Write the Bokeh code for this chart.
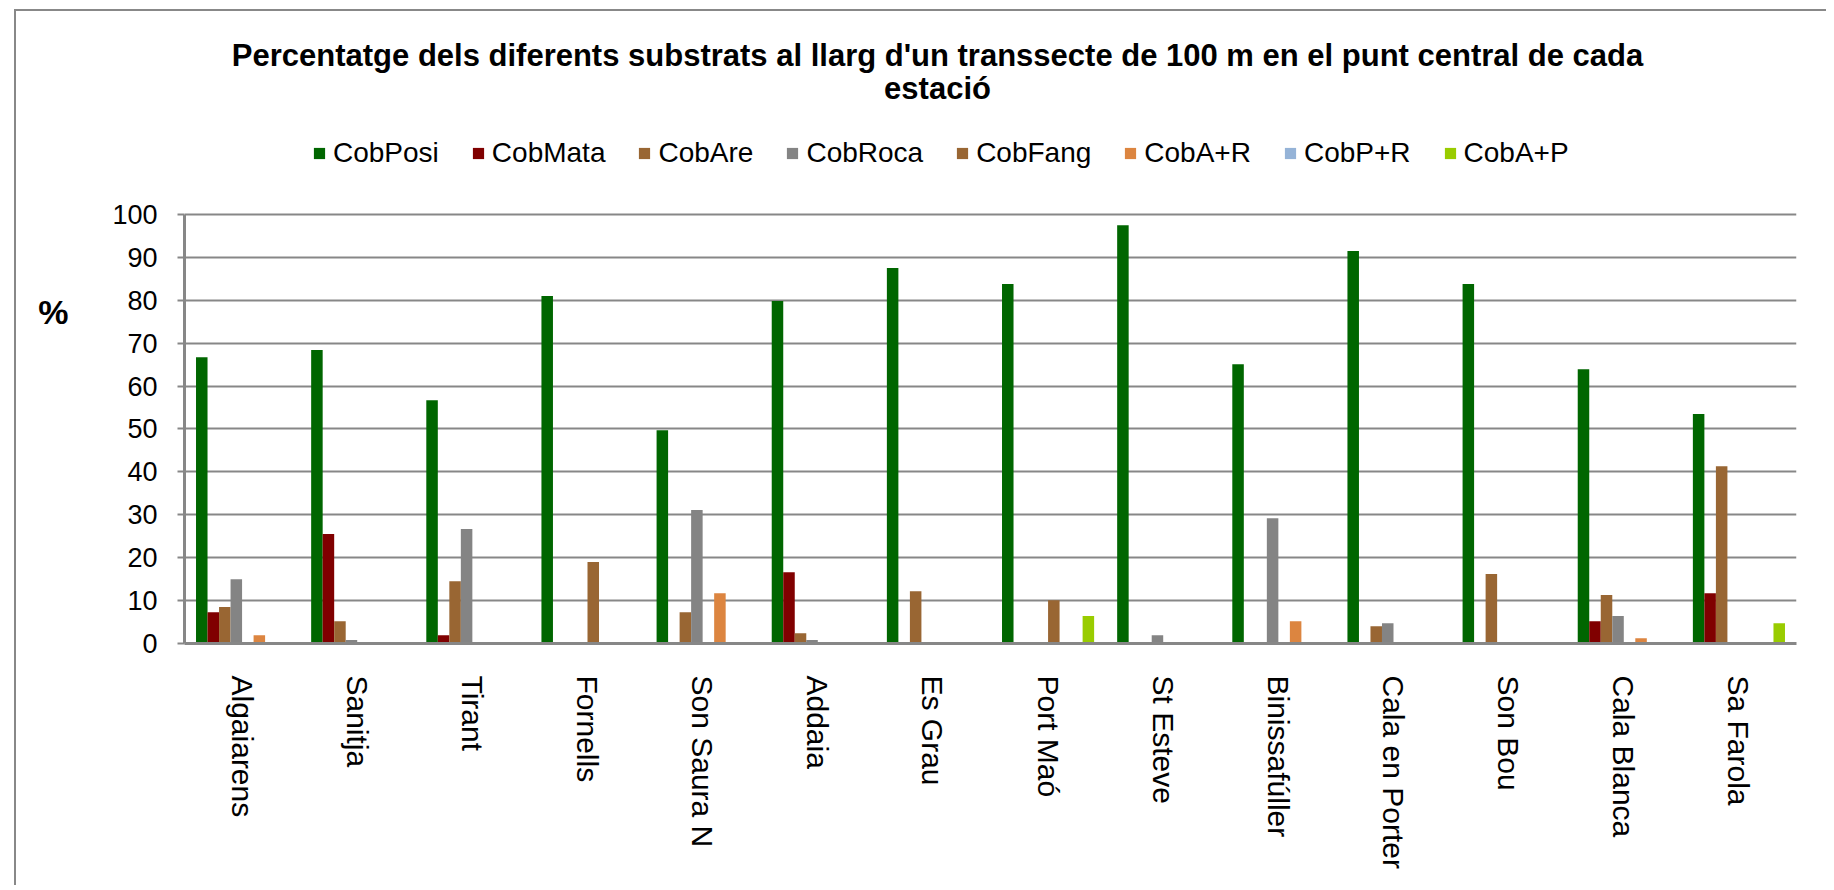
from bokeh.plotting import figure
from bokeh.models import (FactorRange, Range1d, Legend, LegendItem, Label,
                          SingleIntervalTicker, FixedTicker, LinearAxis, ColumnDataSource)
from bokeh.transform import dodge
from bokeh.embed import file_html
from bokeh.resources import INLINE

# ---------------- data ----------------
stations = ["Algaiarens", "Sanitja", "Tirant", "Fornells", "Son Saura N",
            "Addaia", "Es Grau", "Port Maó", "St Esteve", "Binissafúller",
            "Cala en Porter", "Son Bou", "Cala Blanca", "Sa Farola"]

series_names = ["CobPosi", "CobMata", "CobAre", "CobRoca",
                "CobFang", "CobA+R", "CobP+R", "CobA+P"]

cob_posi = [66.7, 68.4, 56.7, 81.0, 49.7, 79.8, 87.5, 83.8, 97.5, 65.1, 91.5, 83.8, 63.9, 53.5]
cob_mata = [7.3, 25.5, 1.9, 0, 0, 16.6, 0, 0, 0, 0, 0, 0, 5.2, 11.7]
cob_are = [8.5, 5.2, 14.5, 0, 7.3, 2.4, 12.2, 0, 0, 0, 4.0, 16.2, 11.3, 41.3]
cob_roca = [15.0, 0.8, 26.7, 0, 31.1, 0.8, 0, 0, 1.9, 29.2, 4.7, 0, 6.4, 0]
cob_fang = [0, 0, 0, 19.0, 0, 0, 0, 10.1, 0, 0, 0, 0, 0, 0]
cob_a_r = [1.9, 0, 0, 0, 11.7, 0, 0, 0, 0, 5.2, 0, 0, 1.2, 0]
cob_p_r = [0, 0, 0, 0, 0, 0, 0, 0, 0, 0, 0, 0, 0, 0]
cob_a_p = [0, 0, 0, 0, 0, 0, 0, 6.4, 0, 0, 0, 0, 0, 4.7]

series_values = [cob_posi, cob_mata, cob_are, cob_roca,
                 cob_fang, cob_a_r, cob_p_r, cob_a_p]
series_colors = ["#006600", "#800000", "#996633", "#848484",
                 "#996633", "#DC8540", "#95B3D7", "#99CC00"]

y_ticks_max = 100
title_line1 = "Percentatge dels diferents substrats al llarg d'un transsecte de 100 m en el punt central de cada"
title_line2 = "estació"
y_label = "%"

FONT = "Liberation Sans"
GRAY = "#878787"

# ---------------- figure ----------------
# frame reaches the top of the canvas so that title and legend lie inside it
p = figure(x_range=FactorRange(*stations), y_range=Range1d(0, 147.3),
           width=1812, height=876, title=None,
           output_backend="svg", toolbar_location=None,
           min_border_left=168, min_border_right=32,
           min_border_top=0, min_border_bottom=244)
p.styles = {"border-top": "2px solid #888888", "border-left": "2px solid #888888",
            "margin-left": "14px", "margin-top": "9px"}

p.outline_line_color = None
p.background_fill_color = "white"
p.border_fill_color = "white"

n = len(series_names)
bw = 0.1
renderers = []
for i, (name, vals, col) in enumerate(zip(series_names, series_values, series_colors)):
    src = ColumnDataSource(dict(x=stations, top=vals))
    r = p.vbar(x=dodge("x", (i - (n - 1) / 2) * bw, range=p.x_range), top="top",
               width=bw, source=src, fill_color=col, line_color=None)
    renderers.append(r)

# axes
ticker = SingleIntervalTicker(interval=10, num_minor_ticks=0)
p.yaxis.ticker = ticker
p.yaxis.bounds = (0, y_ticks_max)
p.ygrid.ticker = ticker
p.ygrid.bounds = (0, y_ticks_max)
p.ygrid.grid_line_color = GRAY
p.ygrid.grid_line_width = 2
p.xgrid.grid_line_color = None

for ax in (p.xaxis[0], p.yaxis[0]):
    ax.axis_line_color = GRAY
    ax.axis_line_width = 3
    ax.major_tick_line_color = GRAY
    ax.major_tick_line_width = 2
    ax.minor_tick_line_color = None
    ax.major_label_text_font = FONT
    ax.major_label_text_color = "black"

p.yaxis.major_tick_out = 7
p.yaxis.major_tick_in = 0
p.yaxis.major_label_text_font_size = "27px"
p.yaxis.major_label_standoff = 20

p.xaxis.major_tick_out = 0
p.xaxis.major_tick_in = 0
p.xaxis.major_label_orientation = "vertical"
p.xaxis.major_label_text_font_size = "30px"
p.xaxis.major_label_standoff = 32

# "%" as the single label of an outer, otherwise invisible left axis
pct_pos = 77.2
pct_axis = LinearAxis(ticker=FixedTicker(ticks=[pct_pos]),
                      major_label_overrides={pct_pos: y_label},
                      axis_line_color=None, major_tick_line_color=None,
                      minor_tick_line_color=None, major_tick_out=0, major_tick_in=0,
                      major_label_standoff=41, major_label_text_font=FONT,
                      major_label_text_font_size="34px",
                      major_label_text_font_style="bold",
                      major_label_text_color="black")
p.add_layout(pct_axis, "left")

# title (two lines)
p.add_layout(Label(x=6.54, y=136.95, text=title_line1, text_font=FONT,
                   text_font_size="31px", text_font_style="bold", text_color="black",
                   text_align="center", text_baseline="alphabetic"))
p.add_layout(Label(x=6.54, y=129.3, text=title_line2, text_font=FONT,
                   text_font_size="31px", text_font_style="bold", text_color="black",
                   text_align="center", text_baseline="alphabetic"))

legend = Legend(items=[LegendItem(label=nm, renderers=[r]) for nm, r in zip(series_names, renderers)],
                orientation="horizontal", location=(128, 474),
                glyph_width=14, glyph_height=14, label_standoff=7, spacing=32,
                padding=0, margin=0, border_line_color=None, background_fill_alpha=0,
                label_text_font=FONT, label_text_font_size="28px",
                label_text_color="black")
p.add_layout(legend)

open("out.html", "w").write(file_html(p, INLINE))
